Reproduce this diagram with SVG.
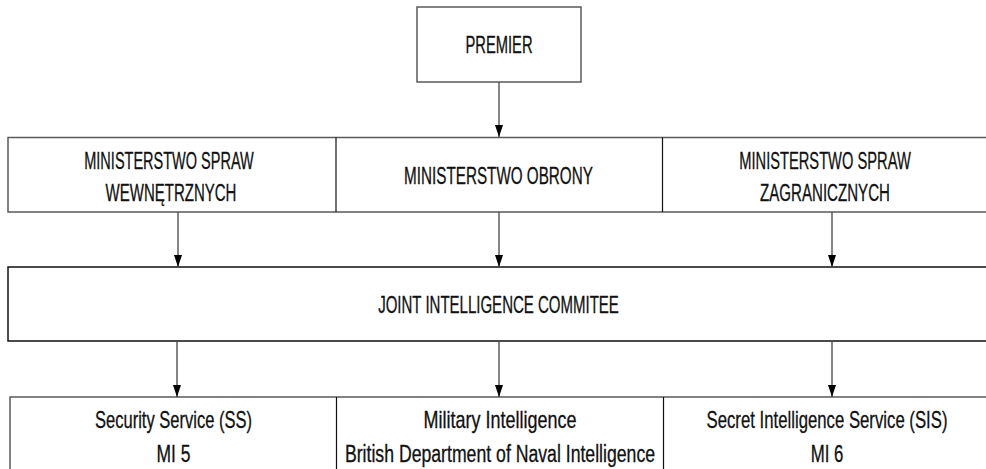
<svg xmlns="http://www.w3.org/2000/svg" width="986" height="469" viewBox="0 0 986 469">
<style>
.box{fill:#fff;stroke:#5a5a5a;stroke-width:1.5}
.open{fill:#fff;stroke:#5a5a5a;stroke-width:1.5}
.openk{fill:#fff;stroke:#111;stroke-width:1.5}
.sep{stroke:#111;stroke-width:1.2}
.t{font-family:"Liberation Sans",Arial,sans-serif;font-size:23px;fill:#111;stroke:#111;stroke-width:0.3;text-anchor:middle}
.c{stroke:#444;stroke-width:1.3;fill:none}
</style>
<defs>
<marker id="ah" markerWidth="12" markerHeight="8" refX="12" refY="4" orient="auto" markerUnits="userSpaceOnUse" viewBox="0 0 12 8">
<path d="M0,0 L12,4 L0,8 Z" fill="#000"/>
</marker>
</defs>
<rect width="986" height="469" fill="#fff"/>
<g id="premier">
<rect class="box" x="417" y="7" width="164" height="75"/>
<text class="t" transform="translate(499,53) scale(0.64,1)">PREMIER</text>
</g>
<g id="msw">
<path class="open" d="M986,137.5 H8 V212 H986"/>
<text class="t" transform="translate(169,169) scale(0.631,1)">MINISTERSTWO SPRAW</text>
<text class="t" transform="translate(171,201) scale(0.653,1)">WEWNĘTRZNYCH</text>
</g>
<g id="mo">
<line class="sep" x1="336" y1="137.5" x2="336" y2="212"/>
<text class="t" transform="translate(498.5,184) scale(0.663,1)">MINISTERSTWO OBRONY</text>
</g>
<g id="msz">
<line class="sep" x1="662.5" y1="137.5" x2="662.5" y2="212"/>
<text class="t" transform="translate(825,169) scale(0.638,1)">MINISTERSTWO SPRAW</text>
<text class="t" transform="translate(825,201) scale(0.656,1)">ZAGRANICZNYCH</text>
</g>
<g id="jic">
<path class="openk" d="M986,267 H8 V341 H986"/>
<text class="t" transform="translate(498.5,313) scale(0.653,1)">JOINT INTELLIGENCE COMMITEE</text>
</g>
<g id="ss">
<path class="open" d="M986,397 H10 V470"/>
<text class="t" transform="translate(173.5,428) scale(0.718,1)">Security Service (SS)</text>
<text class="t" transform="translate(173.5,462) scale(0.76,1)">MI 5</text>
</g>
<g id="mi">
<line class="sep" x1="336.5" y1="397" x2="336.5" y2="469"/>
<text class="t" transform="translate(500,428) scale(0.782,1)">Military Intelligence</text>
<text class="t" transform="translate(500,462) scale(0.768,1)">British Department of Naval Intelligence</text>
</g>
<g id="sis">
<line class="sep" x1="663.5" y1="397" x2="663.5" y2="469"/>
<text class="t" transform="translate(827,428) scale(0.728,1)">Secret Intelligence Service (SIS)</text>
<text class="t" transform="translate(827,462) scale(0.73,1)">MI 6</text>
</g>
<g id="connectors">
<line class="c" x1="499" y1="82" x2="499" y2="137" marker-end="url(#ah)"/>
<line class="c" x1="178" y1="212" x2="178" y2="267" marker-end="url(#ah)"/>
<line class="c" x1="499" y1="212" x2="499" y2="267" marker-end="url(#ah)"/>
<line class="c" x1="832" y1="212" x2="832" y2="267" marker-end="url(#ah)"/>
<line class="c" x1="177" y1="341" x2="177" y2="397" marker-end="url(#ah)"/>
<line class="c" x1="499" y1="341" x2="499" y2="397" marker-end="url(#ah)"/>
<line class="c" x1="832" y1="341" x2="832" y2="397" marker-end="url(#ah)"/>
</g>
</svg>
